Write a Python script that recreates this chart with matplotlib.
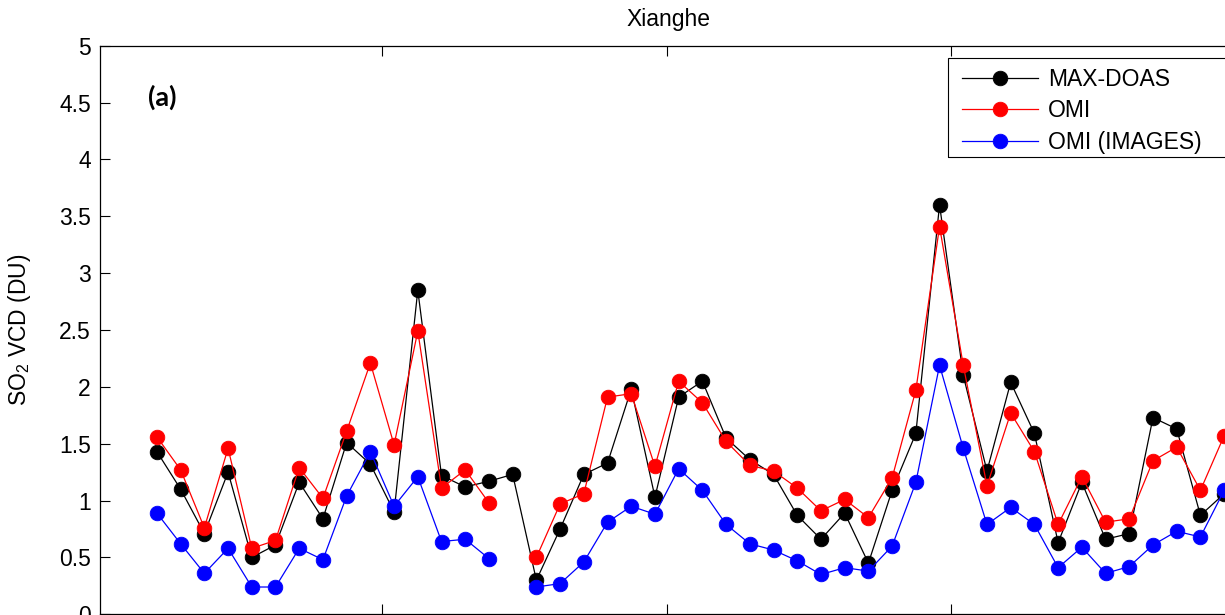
import numpy as np
import matplotlib
matplotlib.use("Agg")
import matplotlib.pyplot as plt
from matplotlib.patches import Rectangle

plt.rcParams['font.family'] = ['Liberation Sans', 'DejaVu Sans']
plt.rcParams['mathtext.default'] = 'regular'

nan = np.nan
# monthly SO2 columns at Xianghe, one value per month
maxdoas = [1.43, 1.10, 0.71, 1.25, 0.50, 0.61, 1.16, 0.84, 1.51, 1.32,
           0.90, 2.85, 1.22, 1.12, 1.17, 1.23, 0.30, 0.75, 1.23, 1.33,
           1.98, 1.03, 1.91, 2.05, 1.55, 1.36, 1.23, 0.87, 0.66, 0.89,
           0.45, 1.09, 1.59, 3.60, 2.10, 1.26, 2.04, 1.59, 0.63, 1.16,
           0.66, 0.71, 1.73, 1.63, 0.87, 1.06]
omi = [1.56, 1.27, 0.76, 1.46, 0.58, 0.65, 1.29, 1.02, 1.61, 2.21,
       1.49, 2.49, 1.11, 1.27, 0.98, nan, 0.50, 0.97, 1.06, 1.91,
       1.94, 1.30, 2.05, 1.86, 1.52, 1.31, 1.26, 1.11, 0.91, 1.01,
       0.85, 1.20, 1.97, 3.41, 2.19, 1.13, 1.77, 1.43, 0.79, 1.21,
       0.81, 0.84, 1.35, 1.47, 1.09, 1.57]
omi_images = [0.89, 0.62, 0.36, 0.58, 0.24, 0.24, 0.58, 0.48, 1.04, 1.43,
              0.95, 1.21, 0.64, 0.66, 0.49, nan, 0.24, 0.27, 0.46, 0.81,
              0.95, 0.88, 1.28, 1.09, 0.79, 0.62, 0.565, 0.47, 0.35, 0.41,
              0.38, 0.60, 1.16, 2.19, 1.46, 0.79, 0.94, 0.79, 0.41, 0.59,
              0.36, 0.42, 0.61, 0.73, 0.68, 1.09]
labels = ['MAX-DOAS', 'OMI', 'OMI (IMAGES)']
colors = ['k', 'r', 'b']
year_starts = [9.5, 21.5, 33.5, 45.5]

months = np.arange(len(maxdoas))

fig = plt.figure(figsize=(12.25, 6.15), dpi=100)
ax = fig.add_axes([100/1225, 0.7/615, 1136/1225, 568.6/615])

for y, c, lab in zip([maxdoas, omi, omi_images], colors, labels):
    ax.plot(months, y, '-o', color=c, lw=0.9, ms=10.5, mfc=c, mec=c,
            mew=0.6, label=lab)

ax.set_xlim(-2.4, 45.4)
ax.set_ylim(0, 5)
ax.set_yticks(np.arange(0, 5.01, 0.5))
ax.set_yticklabels(['0', '0.5', '1', '1.5', '2', '2.5', '3', '3.5', '4', '4.5', '5'])
ax.set_xticks(year_starts)
ax.tick_params(axis='both', direction='in', length=7.5, width=0.8,
               labelsize=16.5, top=True, right=True, labelbottom=False)
ax.tick_params(axis='y', pad=6.5)
for s in ax.spines.values():
    s.set_linewidth(0.9)

ax.set_title('Xianghe', fontsize=16.5, pad=14)
ax.set_ylabel('SO$_2$ VCD (DU)', fontsize=16.5)
ax.yaxis.set_label_coords(-0.059, 0.5)

ax.text(0.042, 0.91, '(a)', transform=ax.transAxes, fontsize=19.5,
        fontweight='bold', family='Lato', va='center', ha='left')

# legend entries without frame; the box is drawn separately so it can be wider
leg = ax.legend(loc='upper left', bbox_to_anchor=(0.7509, 0.9771),
                borderaxespad=0, fontsize=16.5, numpoints=1,
                handlelength=3.3, handletextpad=0.45, labelspacing=0.37,
                borderpad=0.4, frameon=False)
box = Rectangle((0.7465, 0.8043), 0.26, 0.1741, transform=ax.transAxes,
                fill=False, ec='k', lw=0.8, clip_on=False, zorder=6)
ax.add_patch(box)

fig.savefig('out.png', dpi=100)
